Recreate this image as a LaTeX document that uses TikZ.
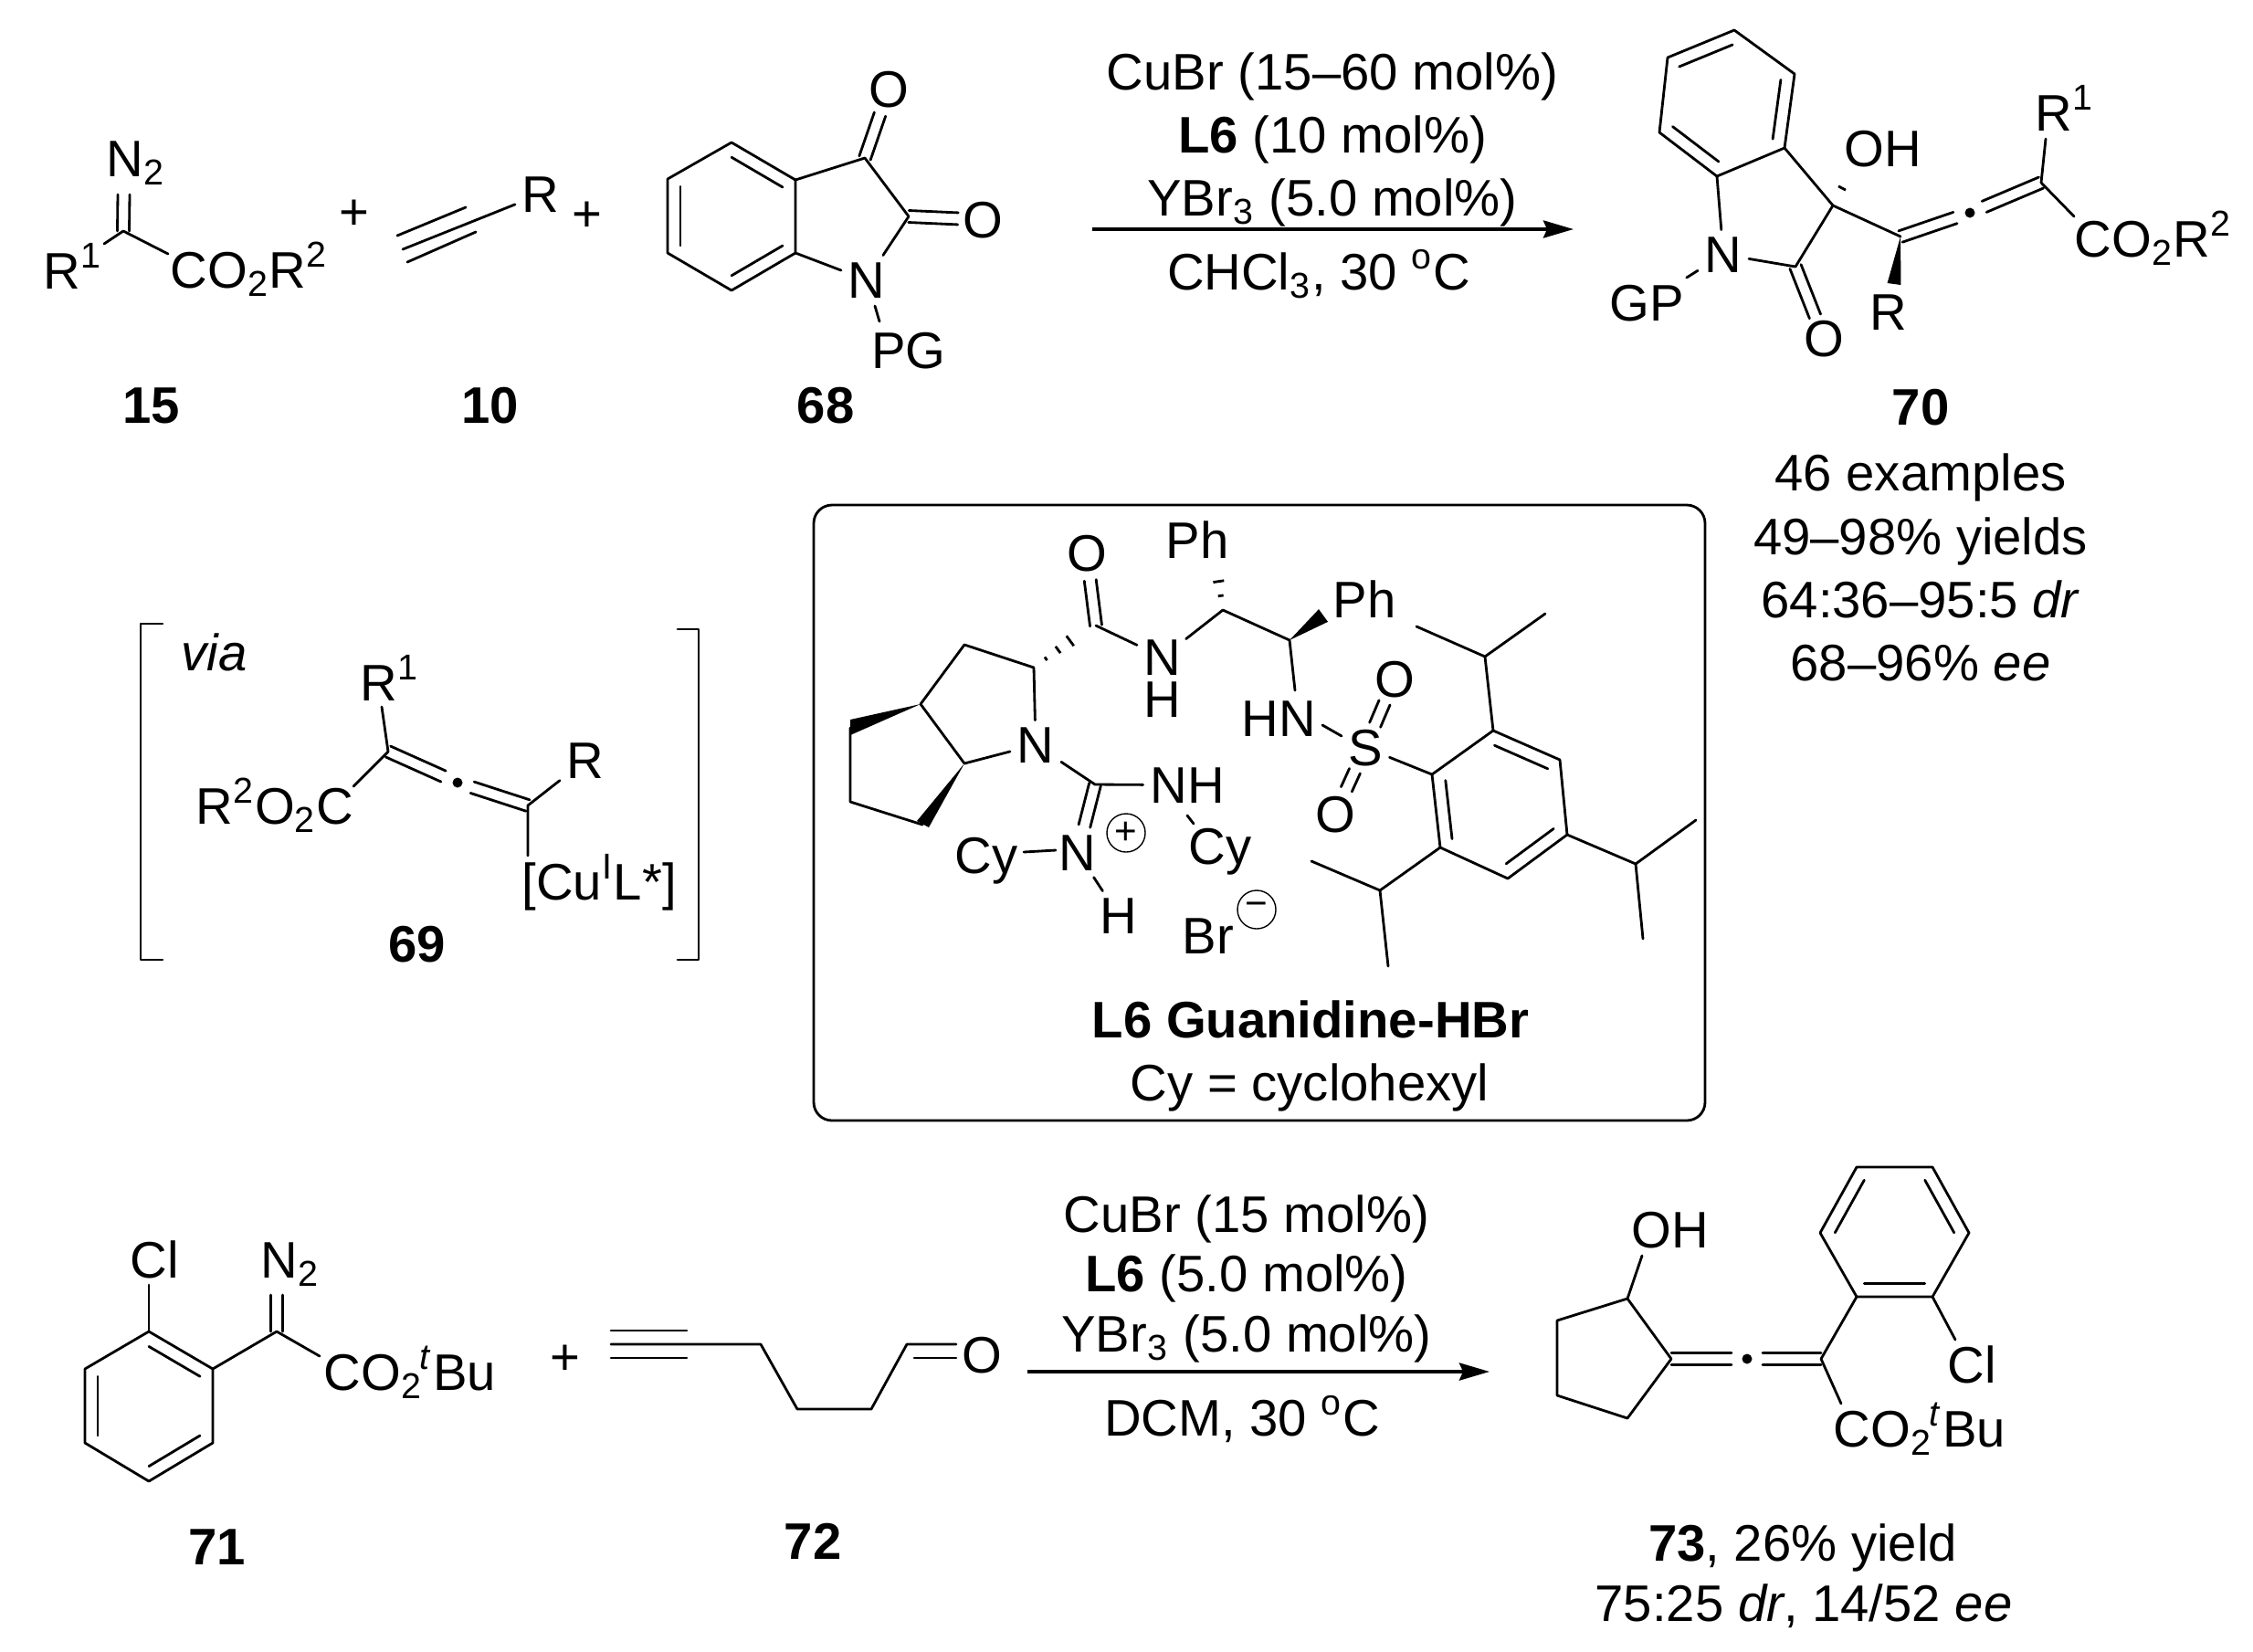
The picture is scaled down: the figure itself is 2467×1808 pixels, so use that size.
\documentclass[tikz,border=0pt]{standalone}
\usepackage{fontspec}
\setmainfont{Liberation Sans}
\usetikzlibrary{calc}
\usetikzlibrary{arrows.meta}
\newcommand{\Txt}{\fontsize{16}{19}\selectfont}
\newcommand{\tbu}{CO\textsubscript{2}\kern-.05em\textsuperscript{\textit{t}}Bu}
\newcommand{\innerbond}[3]{\draw[Bonds] ($(#1)!.2!(#3)$) -- ($(#2)!.2!(#3)$)}
\newcommand{\dbl}[3][]{\draw[Bonds,#1] ($(#2)!.065cm!90:(#3)$) -- ($(#3)!.065cm!-90:(#2)$);
\draw[Bonds,#1] ($(#2)!.065cm!-90:(#3)$) -- ($(#3)!.065cm!90:(#2)$)}
\newcommand{\wedgeb}[3]{\fill ($(#1)$) -- ($(#2)!#3!90:(#1)$) -- ($(#2)!#3!-90:(#1)$) -- cycle}
\newcommand{\hashb}[3]{\foreach \i in {1,...,#3}{
\pgfmathsetmacro{\tt}{\i/#3}\pgfmathsetmacro{\hw}{.09*\tt}
\coordinate (hashpt) at ($(#1)!\tt!(#2)$);
\draw[line width=.8pt] ($(hashpt)!\hw cm!90:(#2)$) -- ($(hashpt)!\hw cm!-90:(#2)$);}}

\begin{document}
\begin{tikzpicture}[
x=.01cm, y=-.01cm,
Bonds/.style={draw=black,line width=.8pt,line cap=round,line join=round},
Atoms/.style={anchor=base,inner sep=.07cm},
Labels/.style={anchor=base,inner sep=0pt},
WLabels/.style={anchor=base west,inner sep=0pt},
Cpds/.style={anchor=base,inner sep=0pt,font=\Txt\bfseries},
ArrowLine/.style={line width=1.1pt,-{Stealth[length=.33cm,width=.19cm,inset=.04cm]}},
Charges/.style={draw,circle,line width=.4pt,minimum size=.42cm,inner sep=0pt,font=\fontsize{12}{14}\selectfont},
every node/.style={font=\Txt}
]
\useasboundingbox (0,0) rectangle (2467,1808);

% compound 15
\coordinate (c15) at (135,253);
\coordinate (n15t) at (135.5,213);
\coordinate (r15e) at (114,267);
\coordinate (e15) at (184,278);
\node[WLabels] (n15) at (116,193) {N\textsubscript{2}};
\node[WLabels] (r15) at (47,316) {R\textsuperscript{1}};
\node[WLabels] (est15) at (186,315) {CO\textsubscript{2}R\textsuperscript{2}};
\dbl{c15}{n15t};
\draw[Bonds] (r15e) -- (c15) -- (e15);
\node[Cpds] (lab15) at (166,463) {15};
\node (pl1) at (388,235) {+};

% compound 10
\coordinate (t1) at (441,273);
\coordinate (t2) at (435,258);
\coordinate (t3) at (510,227);
\coordinate (t4) at (446,287);
\coordinate (t5) at (521,254);
\node[Atoms] (r10) at (592,232) {R};
\draw[Bonds] (t1) -- (r10);
\draw[Bonds] (t2) -- (t3);
\draw[Bonds] (t4) -- (t5);
\node[Cpds] (lab10) at (537,463) {10};
\node (pl2) at (643,237) {+};

% compound 68
\coordinate (a1) at (801,156);
\coordinate (a2) at (871,197);
\coordinate (a3) at (871,277);
\coordinate (a4) at (801,318);
\coordinate (a5) at (731,277);
\coordinate (a6) at (731,196);
\coordinate (ac) at ($(a1)!.5!(a4)$);
\coordinate (c3i) at (947,173);
\coordinate (c2i) at (995,237);
\coordinate (pg1) at (958,335);
\coordinate (pg2) at (963,352);
\node[Atoms] (n68) at (949,326) {N};
\node[Atoms] (o68a) at (973,117) {O};
\node[Atoms] (o68b) at (1076,260) {O};
\node[Labels] (pg68) at (995,403) {PG};
\draw[Bonds] (a1) -- (a2) -- (a3) -- (a4) -- (a5) -- (a6) -- cycle;
\innerbond{a1}{a2}{ac};
\innerbond{a3}{a4}{ac};
\innerbond{a5}{a6}{ac};
\draw[Bonds] (a2) -- (c3i) -- (c2i) -- (n68) -- (a3);
\draw[Bonds] (pg1) -- (pg2);
\dbl[shorten >=.29cm]{c3i}{o68a};
\dbl[shorten >=.27cm]{c2i}{o68b};
\node[Cpds] (lab68) at (904,463) {68};

% first reaction arrow
\coordinate (ar1s) at (1196,251);
\coordinate (ar1e) at (1723,251);
\draw[ArrowLine] (ar1s) -- (ar1e);
\node[Labels] (rg1a) at (1459,98) {CuBr (15–60 mol\%)};
\node[Labels] (rg1b) at (1459,167) {\textbf{L6} (10 mol\%)};
\node[Labels] (rg1c) at (1459,236) {YBr\textsubscript{3} (5.0 mol\%)};
\node[Labels] (rg1d) at (1444,317) {CHCl\textsubscript{3}, 30 \textsuperscript{o}C};

% product 70
\coordinate (b1) at (1899,33);
\coordinate (b2) at (1965,81);
\coordinate (b3) at (1954,162);
\coordinate (b4) at (1880,193);
\coordinate (b5) at (1817,145);
\coordinate (b6) at (1826,63);
\coordinate (bc) at ($(b1)!.5!(b4)$);
\coordinate (c3p) at (2007,225);
\coordinate (c2p) at (1966,292);
\coordinate (oh70e) at (2027,187);
\coordinate (al1) at (2081,259);
\coordinate (dot70) at (2157,233);
\coordinate (al2) at (2235,200);
\coordinate (r170e) at (2240,152);
\coordinate (e70) at (2271,237);
\coordinate (w70) at (2074,311);
\node[Atoms] (n70) at (1887,298) {N};
\node[Atoms] (o70) at (1997,390) {O};
\node[Atoms] (gp70) at (1803,351) {GP};
\node[WLabels] (oh70) at (2019,182) {OH};
\node[WLabels] (r170) at (2228,143) {R\textsuperscript{1}};
\node[WLabels] (est70) at (2271,281) {CO\textsubscript{2}R\textsuperscript{2}};
\node[Atoms] (r70) at (2068,361) {R};
\draw[Bonds] (b1) -- (b2) -- (b3) -- (b4) -- (b5) -- (b6) -- cycle;
\innerbond{b6}{b1}{bc};
\innerbond{b2}{b3}{bc};
\innerbond{b4}{b5}{bc};
\draw[Bonds] (b3) -- (c3p) -- (c2p) -- (n70) -- (b4);
\draw[Bonds] (n70) -- (gp70);
\draw[Bonds] (c3p) -- (al1);
\draw[Bonds] (r170e) -- (al2) -- (e70);
\dbl[shorten >=.26cm]{c2p}{o70};
\dbl[shorten >=.17cm]{al1}{dot70};
\dbl[shorten >=.17cm]{al2}{dot70};
\fill (dot70) circle (.055cm);
\wedgeb{al1}{w70}{.075cm};
\hashb{c3p}{oh70e}{2};
\node[Cpds] (lab70) at (2103,465) {70};
\node[Labels] (res70a) at (2103,537) {46 examples};
\node[Labels] (res70b) at (2103,607) {49–98\% yields};
\node[Labels] (res70c) at (2103,676) {64:36–95:5 \textit{dr}};
\node[Labels] (res70d) at (2103,745) {68–96\% \textit{ee}};

% intermediate 69
\draw[Bonds] (178,683) -- (154,683) -- (154,1051) -- (178,1051);
\draw[Bonds] (742,689) -- (765,689) -- (765,1051) -- (742,1051);
\coordinate (d1) at (425,823);
\coordinate (dot69) at (501,857);
\coordinate (d2) at (578,882);
\coordinate (r169e) at (418,774);
\coordinate (e69) at (387,861);
\coordinate (cu69e) at (578,937);
\node[WLabels] (via) at (198,734) {\textit{via}};
\node[WLabels] (r169) at (394,767) {R\textsuperscript{1}};
\node[Atoms] (r69) at (641,852) {R};
\node[WLabels] (est69) at (214,902) {R\textsuperscript{2}O\textsubscript{2}C};
\node[WLabels] (cu69) at (571,985) {[Cu\textsuperscript{I}L*]};
\draw[Bonds] (r169e) -- (d1) -- (e69);
\draw[Bonds] (r69) -- (d2) -- (cu69e);
\dbl[shorten >=.17cm]{d1}{dot69};
\dbl[shorten >=.17cm]{d2}{dot69};
\fill (dot69) circle (.055cm);
\node[Cpds] (lab69) at (457,1053) {69};

% ligand box
\draw[Bonds,rounded corners=.2cm] (891,553) rectangle (1867,1227);
\coordinate (k1) at (1132,731);
\coordinate (k2) at (1056,706);
\coordinate (k3) at (1008,771);
\coordinate (k4) at (1056,836);
\coordinate (k5) at (931,797);
\coordinate (k5a) at (931,788);
\coordinate (k5b) at (931,805);
\coordinate (k6) at (931,878);
\coordinate (k7) at (1010,903);
\coordinate (k7a) at (1004,899);
\coordinate (k7b) at (1017,906);
\coordinate (co) at (1200,685);
\coordinate (hash0e) at (1185,692);
\coordinate (ch1) at (1339,668);
\coordinate (ch2) at (1412,701);
\coordinate (hash1e) at (1332,621);
\coordinate (w2) at (1449,674);
\coordinate (hn1) at (1418,756);
\coordinate (hn2) at (1448,794);
\coordinate (s1) at (1469,806);
\coordinate (guan) at (1199,859);
\coordinate (cy1e) at (1121,933);
\coordinate (np1) at (1156,931);
\coordinate (nh1) at (1300,893);
\coordinate (cy2e) at (1307,902);
\node[Atoms] (nl6) at (1134,835) {N};
\node[Atoms] (ol6) at (1190,625) {O};
\node[Atoms,inner ysep=0pt] (nam) at (1273,739) {N};
\node[Labels] (ham) at (1273,785) {H};
\node[Labels] (ph1) at (1311,611) {Ph};
\node[Labels] (ph2) at (1494,676) {Ph};
\node[Labels] (hnl) at (1400,806) {HN};
\node[Atoms] (sl6) at (1495,838) {S};
\node[Atoms] (osa) at (1527,763) {O};
\node[Atoms] (osb) at (1462,911) {O};
\node[Atoms] (nhg) at (1300,879) {NH};
\node[Labels] (cyb) at (1336,946) {Cy};
\node[Atoms] (np) at (1180,953) {N};
\node[Labels] (cya) at (1080,956) {Cy};
\node[Atoms] (hp) at (1225,1022) {H};
\node[Labels] (brl) at (1323,1044) {Br};
\node[Charges] (plusc) at (1233,912) {+};
\node[Charges] (minusc) at (1376,996) {−};
\draw[Bonds] (nl6) -- (k1) -- (k2) -- (k3) -- (k4) -- (nl6);
\fill (k3) -- (k5a) -- (k5b) -- cycle;
\fill (k4) -- (k7a) -- (k7b) -- cycle;
\draw[Bonds] (k5) -- (k6) -- (k7);
\hashb{k1}{hash0e}{4};
\dbl[shorten >=.3cm]{co}{ol6};
\draw[Bonds] (co) -- (nam) -- (ch1) -- (ch2) -- (hn1);
\hashb{ch1}{hash1e}{3};
\wedgeb{ch2}{w2}{.085cm};
\draw[Bonds] (hn2) -- (s1);
\dbl[shorten <=.27cm,shorten >=.28cm]{sl6}{osa};
\dbl[shorten <=.28cm,shorten >=.3cm]{sl6}{osb};
\draw[Bonds] (nl6) -- (guan) -- (nhg);
\draw[Bonds] (nh1) -- (cy2e);
\draw[Bonds] (cy1e) -- (np1);
\draw[Bonds] (np) -- (hp);
\dbl[shorten >=.3cm]{guan}{np};
% mesityl part
\coordinate (m1) at (1568,848);
\coordinate (m2) at (1635,800);
\coordinate (m3) at (1708,832);
\coordinate (m4) at (1716,914);
\coordinate (m5) at (1651,962);
\coordinate (m6) at (1577,928);
\coordinate (mc) at ($(m1)!.5!(m4)$);
\draw[Bonds] (m1) -- (m2) -- (m3) -- (m4) -- (m5) -- (m6) -- cycle;
\innerbond{m2}{m3}{mc};
\innerbond{m4}{m5}{mc};
\innerbond{m6}{m1}{mc};
\draw[Bonds] (sl6) -- (m1);
\coordinate (ipa) at (1626,719);
\coordinate (ipa1) at (1551,686);
\coordinate (ipa2) at (1692,672);
\coordinate (ipb) at (1791,946);
\coordinate (ipb1) at (1857,898);
\coordinate (ipb2) at (1799,1028);
\coordinate (ipc) at (1511,975);
\coordinate (ipc1) at (1436,943);
\coordinate (ipc2) at (1520,1058);
\draw[Bonds] (m2) -- (ipa) -- (ipa1);
\draw[Bonds] (ipa) -- (ipa2);
\draw[Bonds] (m4) -- (ipb) -- (ipb1);
\draw[Bonds] (ipb) -- (ipb2);
\draw[Bonds] (m6) -- (ipc) -- (ipc1);
\draw[Bonds] (ipc) -- (ipc2);
\node[Labels] (namel6) at (1435,1136) {\textbf{L6 Guanidine-HBr}};
\node[Labels] (cydef) at (1434,1205) {Cy = cyclohexyl};

% compound 71
\coordinate (f1) at (163,1458);
\coordinate (f2) at (233,1499);
\coordinate (f3) at (233,1580);
\coordinate (f4) at (163,1622);
\coordinate (f5) at (93,1580);
\coordinate (f6) at (93,1499);
\coordinate (fc) at ($(f1)!.5!(f4)$);
\coordinate (c71) at (303,1458);
\coordinate (n71t) at (303,1418);
\coordinate (e71) at (350,1485);
\coordinate (cl71e) at (163,1407);
\node[Labels] (cl71) at (169,1399) {Cl};
\node[WLabels] (n71) at (285,1399) {N\textsubscript{2}};
\node[WLabels] (est71) at (354,1522) {\tbu};
\draw[Bonds] (f1) -- (f2) -- (f3) -- (f4) -- (f5) -- (f6) -- cycle;
\innerbond{f1}{f2}{fc};
\innerbond{f3}{f4}{fc};
\innerbond{f5}{f6}{fc};
\draw[Bonds] (f1) -- (cl71e);
\draw[Bonds] (f2) -- (c71) -- (e71);
\dbl{c71}{n71t};
\node[Cpds] (lab71) at (238,1713) {71};
\node (pl3) at (619,1489) {+};

% compound 72
\coordinate (g0) at (669,1472);
\coordinate (g1) at (752,1472);
\coordinate (g2) at (833,1472);
\coordinate (g3) at (873,1543);
\coordinate (g4) at (954,1543);
\coordinate (g5) at (993,1472);
\coordinate (g6) at (1047,1472);
\coordinate (g7) at (1001,1487);
\coordinate (g8) at (1047,1487);
\coordinate (g0a) at (669,1457);
\coordinate (g1a) at (752,1457);
\coordinate (g0b) at (669,1487);
\coordinate (g1b) at (752,1487);
\node[Labels] (o72) at (1075,1503) {O};
\draw[Bonds] (g0) -- (g1) -- (g2) -- (g3) -- (g4) -- (g5) -- (g6);
\draw[Bonds] (g7) -- (g8);
\draw[Bonds] (g0a) -- (g1a);
\draw[Bonds] (g0b) -- (g1b);
\node[Cpds] (lab72) at (890,1707) {72};

% second reaction arrow
\coordinate (ar2s) at (1125,1502);
\coordinate (ar2e) at (1631,1502);
\draw[ArrowLine] (ar2s) -- (ar2e);
\node[Labels] (rg2a) at (1365,1349) {CuBr (15 mol\%)};
\node[Labels] (rg2b) at (1365,1414) {\textbf{L6} (5.0 mol\%)};
\node[Labels] (rg2c) at (1365,1480) {YBr\textsubscript{3} (5.0 mol\%)};
\node[Labels] (rg2d) at (1360,1572) {DCM, 30 \textsuperscript{o}C};

% product 73
\coordinate (p1) at (1782,1422);
\coordinate (p2) at (1705,1446);
\coordinate (p3) at (1705,1528);
\coordinate (p4) at (1782,1553);
\coordinate (p5) at (1830,1488);
\coordinate (oh73e) at (1798,1375);
\coordinate (dot73) at (1913,1488);
\coordinate (q0) at (1994,1488);
\coordinate (q1) at (2033,1420);
\coordinate (q2) at (2116,1420);
\coordinate (q3) at (2156,1350);
\coordinate (q4) at (2116,1278);
\coordinate (q5) at (2033,1278);
\coordinate (q6) at (1993,1350);
\coordinate (qc) at ($(q1)!.5!(q4)$);
\coordinate (cl73e) at (2141,1467);
\coordinate (e73) at (2016,1537);
\node[Labels] (oh73) at (1829,1366) {OH};
\node[Labels] (cl73) at (2159,1514) {Cl};
\node[WLabels] (est73) at (2007,1584) {\tbu};
\draw[Bonds] (p1) -- (p2) -- (p3) -- (p4) -- (p5) -- cycle;
\draw[Bonds] (p1) -- (oh73e);
\dbl[shorten >=.17cm]{p5}{dot73};
\dbl[shorten >=.17cm]{q0}{dot73};
\fill (dot73) circle (.055cm);
\draw[Bonds] (e73) -- (q0) -- (q1);
\draw[Bonds] (q1) -- (q2) -- (q3) -- (q4) -- (q5) -- (q6) -- cycle;
\innerbond{q1}{q2}{qc};
\innerbond{q3}{q4}{qc};
\innerbond{q5}{q6}{qc};
\draw[Bonds] (q2) -- (cl73e);
\node[Labels] (res73a) at (1974,1709) {\textbf{73}, 26\% yield};
\node[Labels] (res73b) at (1975,1775) {75:25 \textit{dr}, 14/52 \textit{ee}};
\end{tikzpicture}
\end{document}
